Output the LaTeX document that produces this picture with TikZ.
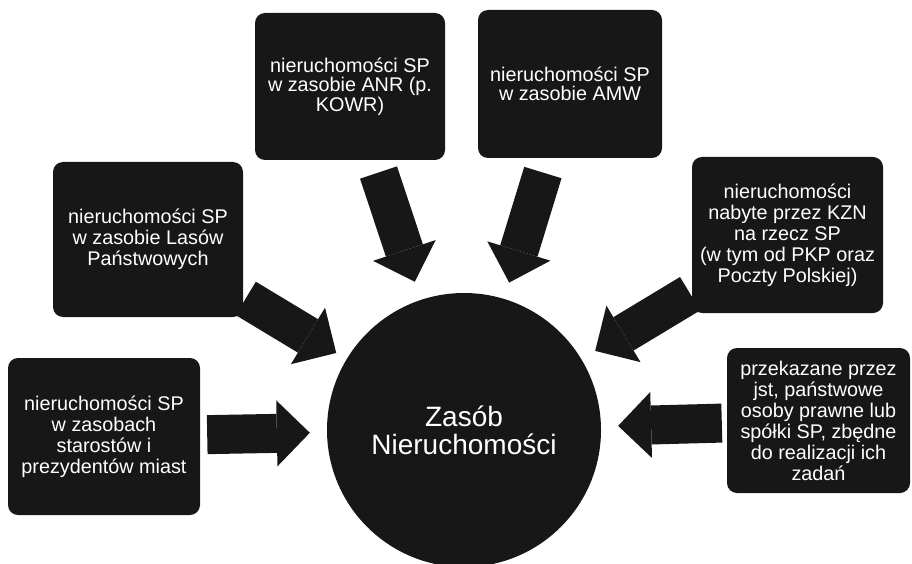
\documentclass[tikz,border=0pt]{standalone}
\usepackage{fontspec}
\setmainfont{Liberation Sans}
\usepackage{xcolor}
\usetikzlibrary{arrows.meta}

\definecolor{skan}{gray}{0.09}

\begin{document}
\begin{tikzpicture}[x=1pt,y=-1pt,
  src node/.style={rectangle,rounded corners=10pt,fill=skan,text=white,align=center,inner sep=2pt,font=\fontsize{19.8}{21}\selectfont},
  top node/.style={src node,font=\fontsize{19.8}{19.5}\selectfont},
  main node/.style={circle,fill=skan,text=white,align=center,minimum size=274pt,font=\fontsize{28}{28}\selectfont},
  big arrow/.style={line width=39pt,draw=skan,-{Triangle[width=66pt,length=33pt,line width=0pt]}}]
\useasboundingbox (0,0) rectangle (912,564);
\clip (0,0) rectangle (912,564);

\node[main node] (zasob) at (464,430){Zasób\\Nieruchomości};

\node[top node,minimum width=190pt,minimum height=147pt] (anr) at (350,86.5){nieruchomości SP\\w zasobie ANR (p.\\KOWR)};
\node[top node,minimum width=184pt,minimum height=148pt] (amw) at (570,84){nieruchomości SP\\w zasobie AMW};
\node[src node,minimum width=190pt,minimum height=155pt] (lasy) at (148,239.5){nieruchomości SP\\w zasobie Lasów\\Państwowych};
\node[src node,minimum width=191pt,minimum height=156pt] (kzn) at (787.5,235){nieruchomości\\nabyte przez KZN\\na rzecz SP\\(w tym od PKP oraz\\Poczty Polskiej)};
\node[src node,minimum width=192pt,minimum height=157pt] (starosta) at (104,436.5){nieruchomości SP\\w zasobach\\starostów i\\prezydentów miast};
\node[src node,minimum width=183pt,minimum height=145pt] (jst) at (818.5,420.5){przekazane przez\\jst, państwowe\\osoby prawne lub\\spółki SP, zbędne\\do realizacji ich\\zadań};

% strzalki do zasobu
\draw[big arrow,shorten <=13pt,shorten >=19pt] (anr) -- (zasob);
\draw[big arrow,shorten <=15pt,shorten >=17pt] (amw) -- (zasob);
\draw[big arrow,shorten <=3pt,shorten >=12pt] (lasy) -- (zasob);
\draw[big arrow,shorten <=2pt,shorten >=16pt] (kzn) -- (zasob);
\draw[big arrow,shorten <=7pt,shorten >=17pt] (starosta) -- (zasob);
\draw[big arrow,shorten <=5pt,shorten >=17pt] (jst) -- (zasob);
\end{tikzpicture}
\end{document}
